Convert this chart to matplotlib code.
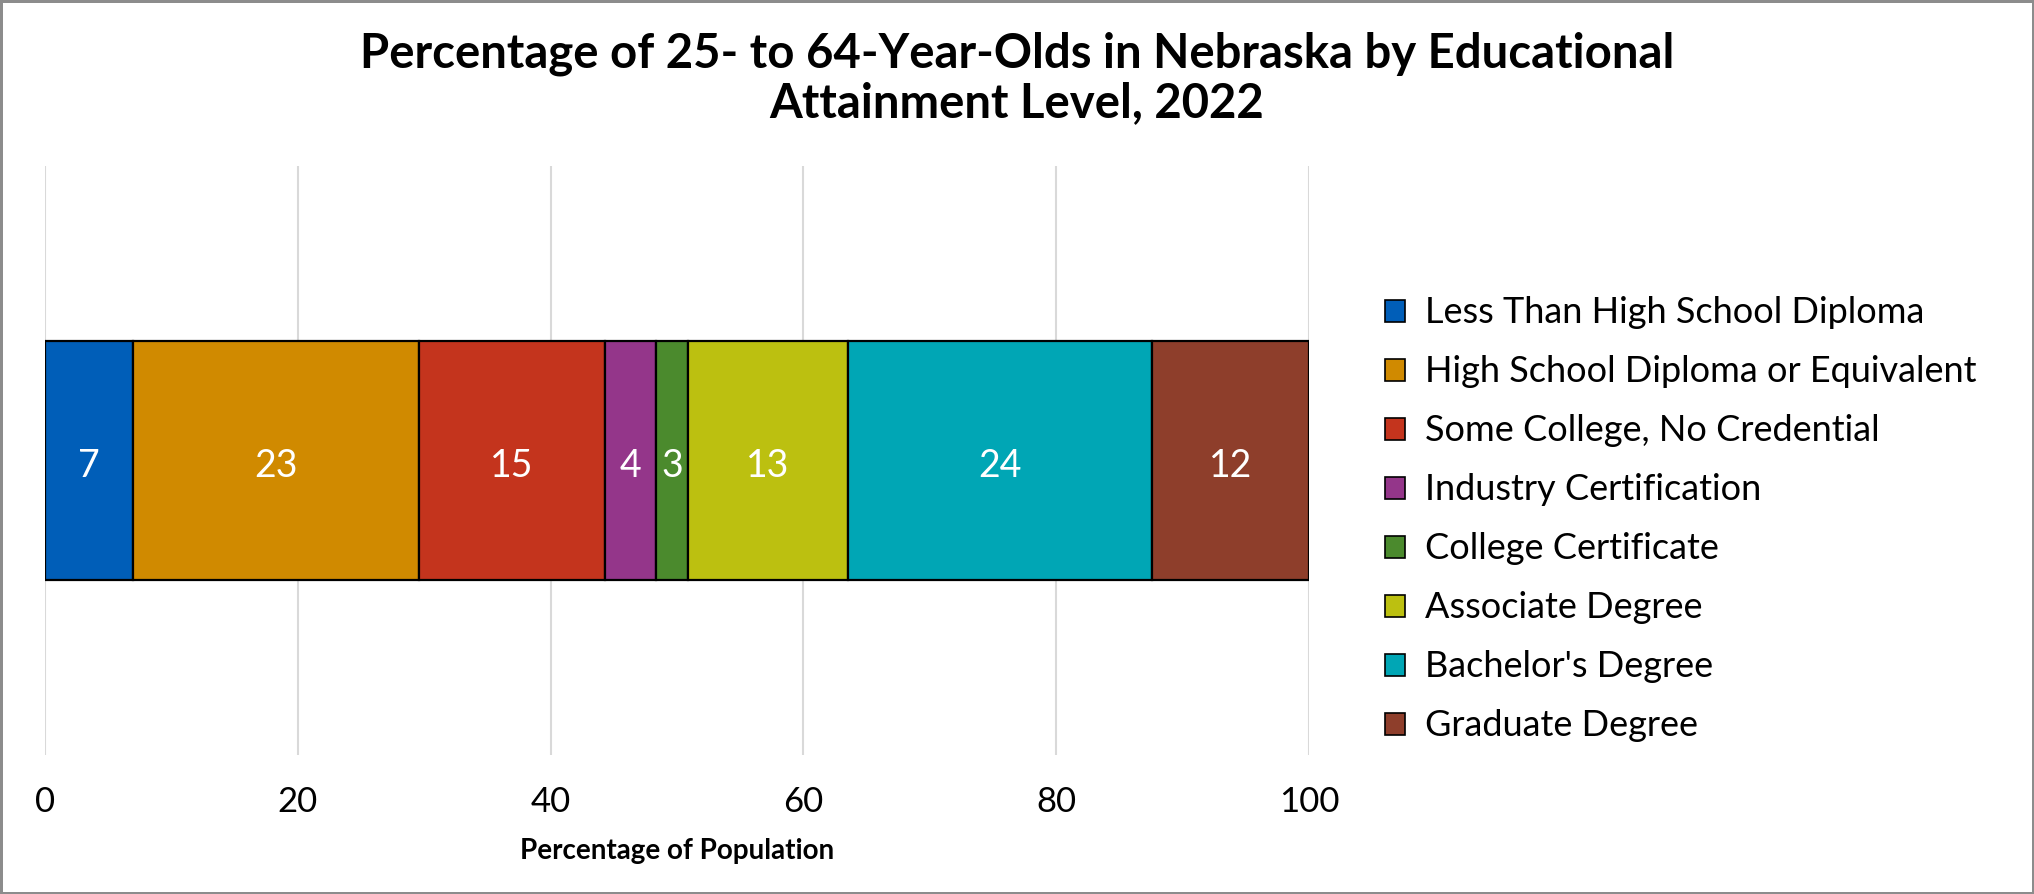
import matplotlib
matplotlib.use("Agg")
import matplotlib.pyplot as plt
from matplotlib.patches import Patch

plt.rcParams['font.family'] = ['Lato', 'DejaVu Sans']

categories = [
    "Less Than High School Diploma",
    "High School Diploma or Equivalent",
    "Some College, No Credential",
    "Industry Certification",
    "College Certificate",
    "Associate Degree",
    "Bachelor's Degree",
    "Graduate Degree",
]
values = [7.0, 22.6, 14.7, 4.0, 2.6, 12.6, 24.1, 12.4]
labels = ["7", "23", "15", "4", "3", "13", "24", "12"]
colors = ["#005EB8", "#D08A00", "#C4341D", "#94368A",
          "#4B8A2D", "#BCC010", "#00A6B5", "#8E3E2B"]
xticks = [0, 20, 40, 60, 80, 100]

fig = plt.figure(figsize=(20.34, 8.94), dpi=100, edgecolor="#8c8c8c", linewidth=2.5)
ax = fig.add_axes([0.0221, 0.1555, 0.6215, 0.6588])

left = 0
for cat, val, lab, col in zip(categories, values, labels, colors):
    ax.barh(0, val, left=left, height=0.81, color=col, edgecolor="black",
            linewidth=1.6, label=cat, zorder=3)
    ax.text(left + val / 2, -0.02, lab, ha="center", va="center", color="white",
            fontsize=27, zorder=4)
    left += val

ax.set_xlim(0, 100)
ax.set_ylim(-1, 1)
ax.set_xticks(xticks)
ax.set_xticklabels([str(t) for t in xticks], fontsize=25)
ax.set_yticks([])
ax.tick_params(axis="x", length=0, pad=22)
ax.grid(axis="x", color="#d9d9d9", linewidth=1.5, zorder=0)
for s in ax.spines.values():
    s.set_visible(False)
ax.set_xlabel("Percentage of Population", fontsize=20, fontweight="bold", labelpad=15)

fig.suptitle("Percentage of 25- to 64-Year-Olds in Nebraska by Educational\nAttainment Level, 2022",
             fontsize=34, fontweight="bold", y=0.965, linespacing=1.15)

handles = [Patch(facecolor=c, edgecolor="black", linewidth=1.2) for c in colors]
fig.legend(handles, categories, loc="center left", bbox_to_anchor=(0.665, 0.419),
           frameon=False, fontsize=26, handlelength=0.55, handleheight=0.55,
           handletextpad=0.55, labelspacing=0.72)

fig.savefig("out.png", dpi=100, edgecolor=fig.get_edgecolor())
